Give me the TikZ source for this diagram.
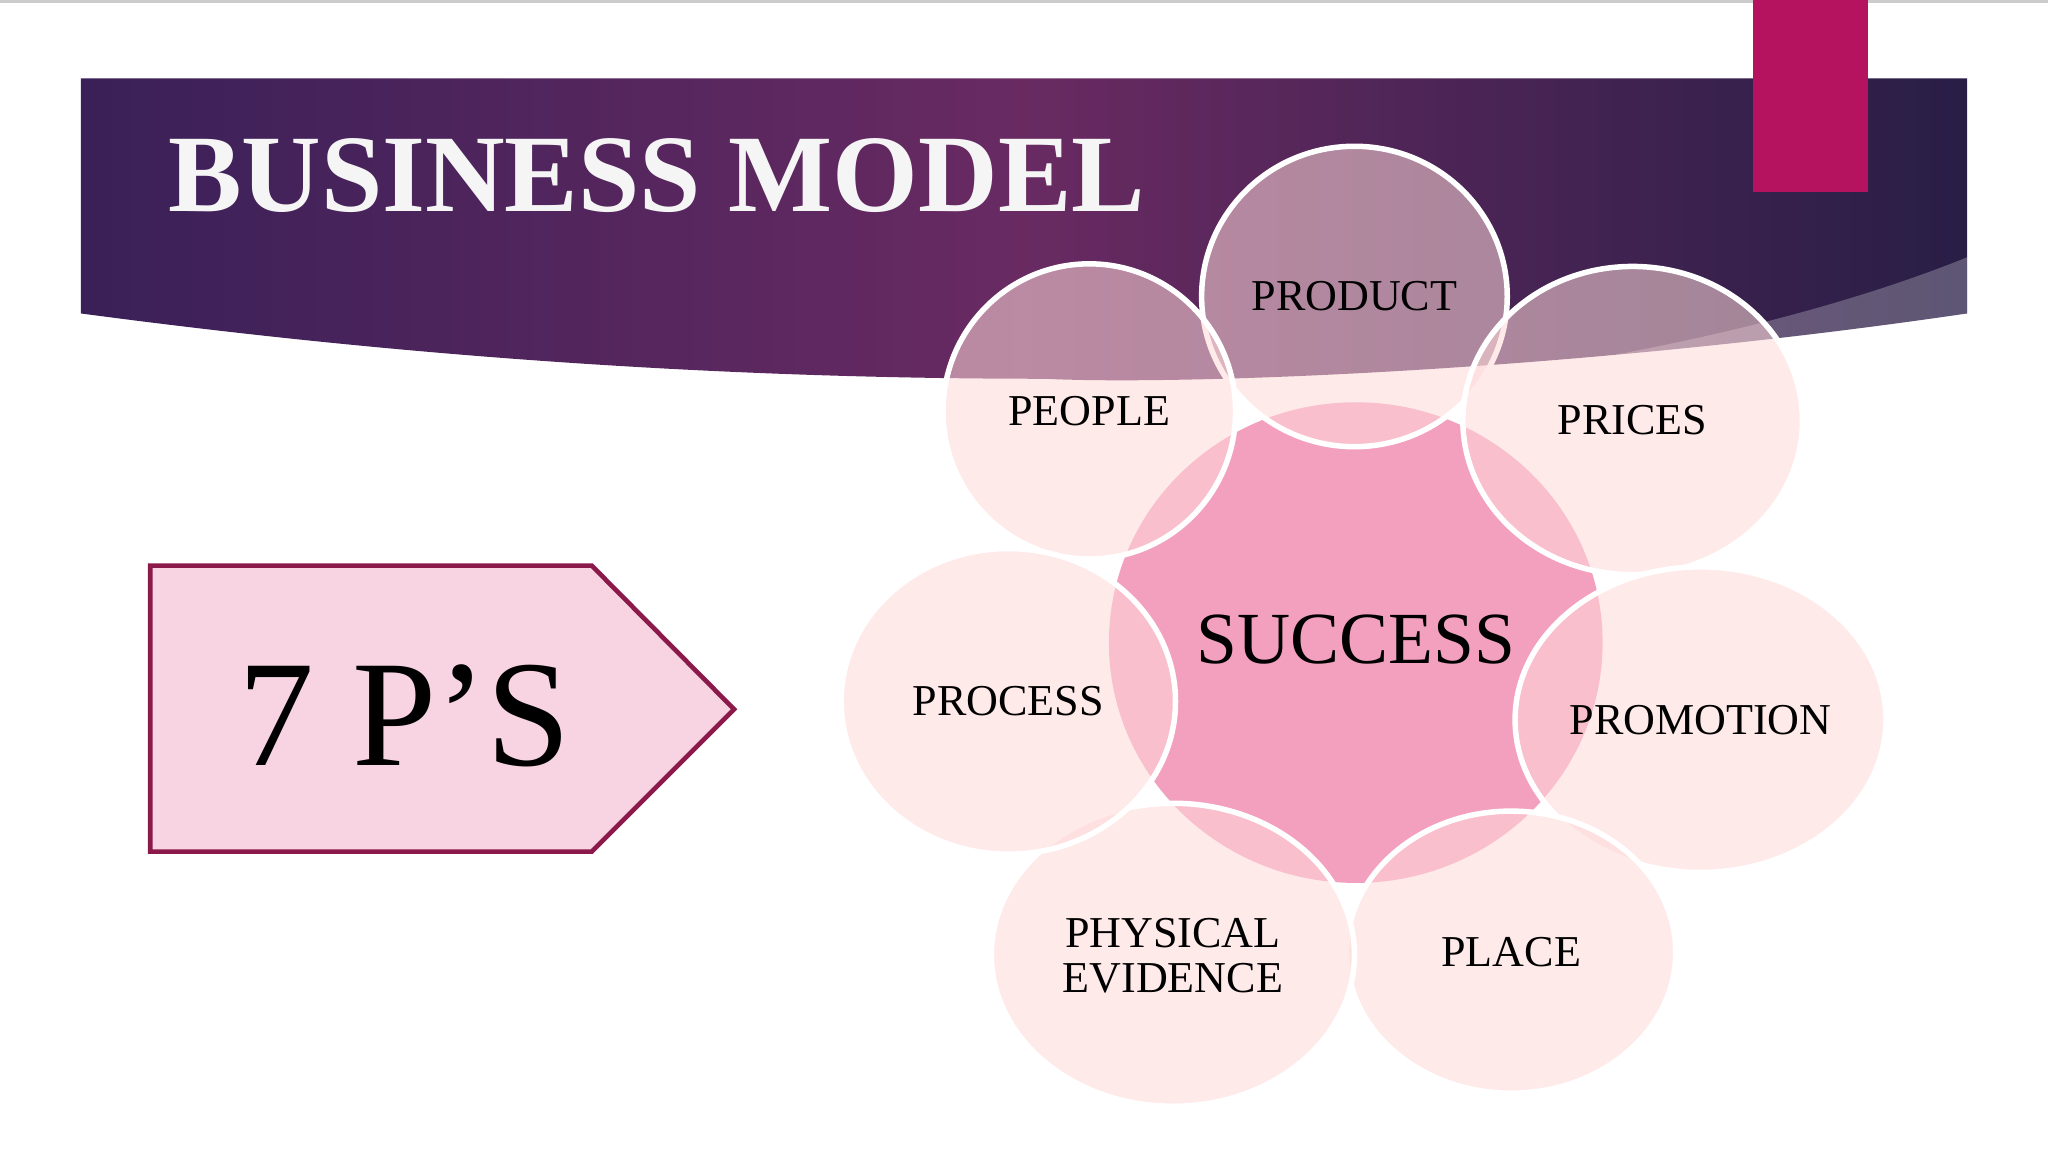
\documentclass[tikz,border=0pt]{standalone}
\usepackage{fontspec}
\setmainfont{Liberation Serif}
\definecolor{bnL}{RGB}{58,32,88}
\definecolor{bnR}{RGB}{40,30,70}
\definecolor{bnM}{RGB}{105,42,98}
\definecolor{magbar}{RGB}{181,19,95}
\definecolor{arrfill}{RGB}{248,211,226}
\definecolor{arrdraw}{RGB}{139,26,74}
\definecolor{succ}{RGB}{242,160,189}
\begin{document}
\begin{tikzpicture}[x=0.01cm,y=-0.01cm,
  pcirc/.style={draw=white,line width=1.2pt,fill=pink!60!white,fill opacity=0.55},
  plabel/.style={font=\fontsize{9.6pt}{10pt}\selectfont,text=black,align=center}]
\useasboundingbox (0,0) rectangle (1568,882);
\fill[white] (0,0) rectangle (1568,882);
\draw[gray!40,line width=0.6pt] (0,1) -- (1568,1);
% banner
\shade[left color=bnL,right color=bnR,middle color=bnM]
  (62,60) -- (1506,60) -- (1506,240) .. controls (1200,285) and (900,295) .. (800,290) .. controls (500,290) and (250,265) .. (62,240) -- cycle;
\fill[white,opacity=0.25] (1506,197) .. controls (1400,240) and (1250,275) .. (1100,292) .. controls (1250,290) and (1400,260) .. (1506,240) -- cycle;
\fill[magbar] (1342,0) rectangle (1430,147);
\node[anchor=base west,inner sep=0,text=white!92!gray,font=\fontsize{24pt}{26pt}\selectfont\bfseries] (title) at (128,162) {BUSINESS MODEL};
% arrow
\draw[fill=arrfill,draw=arrdraw,line width=1pt]
  (115,433) -- (453,433) -- (562,543) -- (453,652) -- (115,652) -- cycle;
\node[font=\fontsize{33pt}{34pt}\selectfont] (sevenp) at (310,548) {7 P’S};
% center
\fill[succ] (1038,492) ellipse [x radius=189,y radius=184];
\node[font=\fontsize{16pt}{17pt}\selectfont] (success) at (1038,490) {SUCCESS};
% outer
\draw[pcirc] (1037,227) ellipse [x radius=117,y radius=115];
\draw[pcirc] (834,315) ellipse [x radius=112,y radius=113];
\draw[pcirc] (1250,322) ellipse [x radius=130,y radius=118];
\draw[pcirc] (1302,551) ellipse [x radius=142,y radius=117];
\draw[pcirc] (1157,729) ellipse [x radius=126,y radius=108];
\draw[pcirc] (898,731) ellipse [x radius=139,y radius=116];
\draw[pcirc] (772,537) ellipse [x radius=128,y radius=117];
\node[plabel] (product) at (1037,227) {PRODUCT};
\node[plabel] (people) at (834,315) {PEOPLE};
\node[plabel] (prices) at (1250,322) {PRICES};
\node[plabel] (promotion) at (1302,551) {PROMOTION};
\node[plabel] (place) at (1157,729) {PLACE};
\node[plabel,font=\fontsize{9.6pt}{9.8pt}\selectfont] (phys) at (898,732) {PHYSICAL\\EVIDENCE};
\node[plabel] (process) at (772,537) {PROCESS};
\end{tikzpicture}
\end{document}
